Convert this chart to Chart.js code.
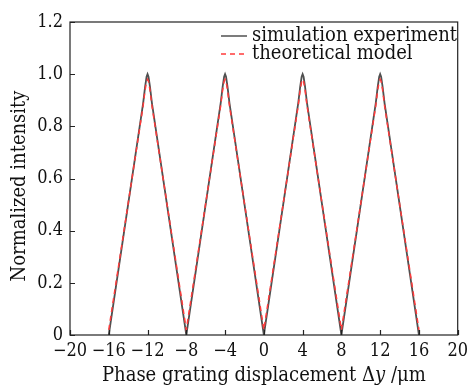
<!DOCTYPE html>
<html lang="en">
  <head>
    <meta charset="UTF-8" />
    <title>Normalized intensity vs phase grating displacement</title>
    <script src="https://cdn.jsdelivr.net/npm/chart.js"></script>
    <style>
      html, body { margin: 0; padding: 0; background: #fff; }
      #wrap { width: 474px; height: 386px; position: relative; }
    </style>
  </head>
  <body>
    <div id="wrap"><canvas id="myChart"></canvas></div>
    <script>
      // values
      const simX = [-16, -12.45, -12.25, -12.1, -12, -11.9, -11.75, -11.55, -8, -4.45, -4.25, -4.1, -4, -3.9, -3.75, -3.55, 0, 3.55, 3.75, 3.9, 4, 4.1, 4.25, 4.45, 8, 11.55, 11.75, 11.9, 12, 12.1, 12.25, 12.45, 16];
      const simY = [0, 0.89, 0.952, 0.99, 1.0, 0.99, 0.952, 0.89, 0, 0.89, 0.952, 0.99, 1.0, 0.99, 0.952, 0.89, 0, 0.89, 0.952, 0.99, 1.0, 0.99, 0.952, 0.89, 0, 0.89, 0.952, 0.99, 1.0, 0.99, 0.952, 0.89, 0];
      const theoryX = [-16, -12.45, -12.25, -12.1, -12, -11.9, -11.75, -11.55, -8, -4.45, -4.25, -4.1, -4, -3.9, -3.75, -3.55, 0, 3.55, 3.75, 3.9, 4, 4.1, 4.25, 4.45, 8, 11.55, 11.75, 11.9, 12, 12.1, 12.25, 12.45, 16];
      const theoryY = [0.02, 0.88, 0.94, 0.972, 0.98, 0.972, 0.94, 0.88, 0.02, 0.88, 0.94, 0.972, 0.98, 0.972, 0.94, 0.88, 0.02, 0.88, 0.94, 0.972, 0.98, 0.972, 0.94, 0.88, 0.02, 0.88, 0.94, 0.972, 0.98, 0.972, 0.94, 0.88, 0.02];
      const seriesNames = ["simulation experiment", "theoretical model"];
      const xTicks = [-20, -16, -12, -8, -4, 0, 4, 8, 12, 16, 20];
      const yTicks = [0, 0.2, 0.4, 0.6, 0.8, 1.0, 1.2];

      const FONT = "'DejaVu Serif Condensed', 'DejaVu Serif', serif";
      const simColor = "#505050";
      const theoryColor = "#ff3b3b";

      const toPts = (xs, ys) => xs.map((x, i) => ({ x: x, y: ys[i] }));

      // frame, inward ticks, legend and axis titles drawn over the chart
      const framePlugin = {
        id: "frame",
        afterDraw(chart) {
          const { ctx, chartArea: a, scales } = chart;
          ctx.save();
          ctx.strokeStyle = "#222";
          ctx.lineWidth = 1.2;
          ctx.strokeRect(a.left, a.top, a.right - a.left, a.bottom - a.top);
          ctx.beginPath();
          xTicks.forEach((v) => {
            const px = Math.round(scales.x.getPixelForValue(v)) + 0.5;
            ctx.moveTo(px, a.bottom);
            ctx.lineTo(px, a.bottom - 5);
          });
          yTicks.forEach((v) => {
            const py = Math.round(scales.y.getPixelForValue(v)) + 0.5;
            ctx.moveTo(a.left, py);
            ctx.lineTo(a.left + 5, py);
          });
          ctx.stroke();

          // legend
          ctx.font = "20px " + FONT;
          ctx.textBaseline = "alphabetic";
          ctx.fillStyle = "#111";
          const rows = [
            { name: seriesNames[0], color: simColor, dash: [], y: 36, base: 41 },
            { name: seriesNames[1], color: theoryColor, dash: [5, 4], y: 54, base: 59 },
          ];
          rows.forEach((r) => {
            ctx.beginPath();
            ctx.setLineDash(r.dash);
            ctx.strokeStyle = r.color;
            ctx.lineWidth = 1.5;
            ctx.moveTo(221, r.y);
            ctx.lineTo(247, r.y);
            ctx.stroke();
            ctx.setLineDash([]);
            ctx.fillText(r.name, 252, r.base);
          });

          // x axis title with italic y
          const parts = [
            { t: "Phase grating displacement \u0394", f: "20px " + FONT },
            { t: "y", f: "italic 20px " + FONT },
            { t: " /\u03bcm", f: "20px " + FONT },
          ];
          let total = 0;
          parts.forEach((p) => {
            ctx.font = p.f;
            p.w = ctx.measureText(p.t).width;
            total += p.w;
          });
          let cx = (a.left + a.right) / 2 - total / 2;
          parts.forEach((p) => {
            ctx.font = p.f;
            ctx.fillText(p.t, cx, 381);
            cx += p.w;
          });

          // y axis title
          ctx.translate(25, 186);
          ctx.rotate(-Math.PI / 2);
          ctx.font = "20px " + FONT;
          ctx.textAlign = "center";
          ctx.fillText("Normalized intensity", 0, 0);
          ctx.restore();
        },
      };

      const ctx = document.getElementById("myChart").getContext("2d");
      const myChart = new Chart(ctx, {
        type: "line",
        data: {
          datasets: [
            {
              label: seriesNames[1],
              data: toPts(theoryX, theoryY),
              borderColor: theoryColor,
              borderWidth: 1.5,
              borderDash: [5, 4],
              pointRadius: 0,
              tension: 0,
              order: 0,
            },
            {
              label: seriesNames[0],
              data: toPts(simX, simY),
              borderColor: simColor,
              borderWidth: 1.8,
              pointRadius: 0,
              tension: 0,
              order: 1,
            },
          ],
        },
        options: {
          responsive: true,
          maintainAspectRatio: false,
          animation: false,
          layout: { padding: { top: 22, right: 15, left: 0, bottom: 0 } },
          scales: {
            x: {
              type: "linear",
              min: -20,
              max: 20,
              afterBuildTicks: (s) => { s.ticks = xTicks.map((v) => ({ value: v })); },
              afterFit: (s) => { s.height = 51; },
              grid: { display: false, drawTicks: false },
              border: { display: false },
              ticks: {
                padding: 6,
                color: "#111",
                font: { family: FONT, size: 18 },
                maxRotation: 0,
                callback: (v) => String(v).replace("-", "\u2212"),
              },
            },
            y: {
              min: 0,
              max: 1.2,
              afterBuildTicks: (s) => { s.ticks = yTicks.map((v) => ({ value: v })); },
              afterFit: (s) => { s.width = 70; },
              grid: { display: false, drawTicks: false },
              border: { display: false },
              ticks: {
                padding: 7,
                color: "#111",
                font: { family: FONT, size: 18 },
                callback: (v) => (v === 0 ? "0" : v.toFixed(1)),
              },
            },
          },
          plugins: {
            legend: { display: false },
            tooltip: { enabled: false },
          },
        },
        plugins: [framePlugin],
      });
    </script>
  </body>
</html>
